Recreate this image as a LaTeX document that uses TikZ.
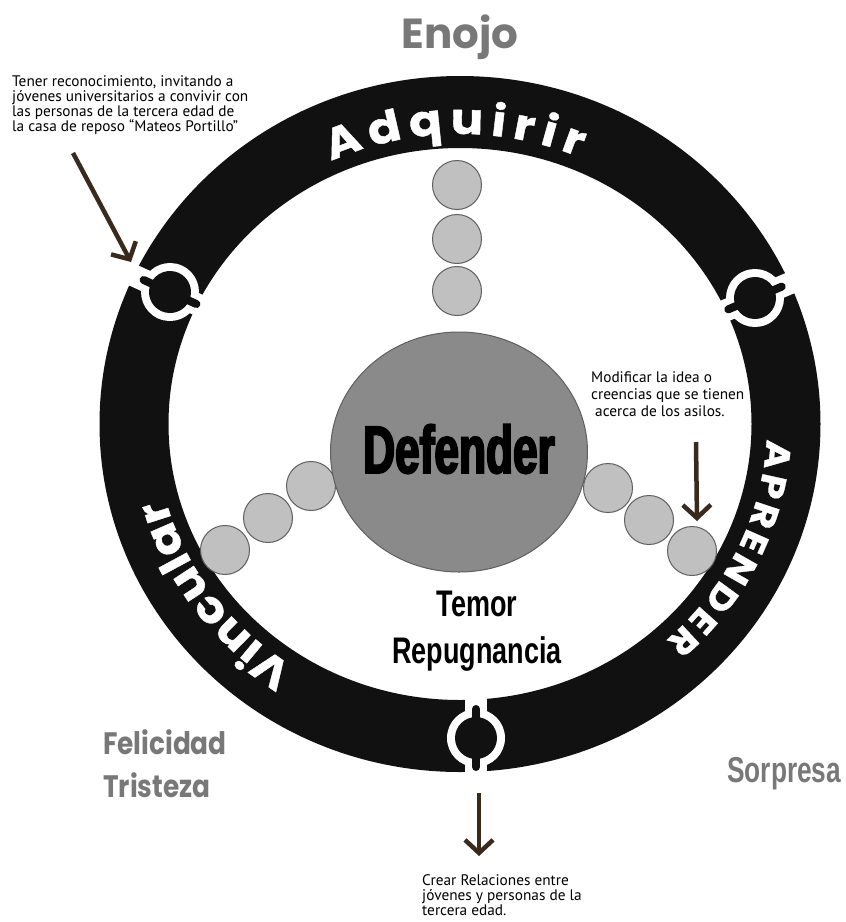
\documentclass[tikz,border=0pt]{standalone}
\usepackage{fontspec}
\setmainfont{PT Sans}
\newfontfamily\ringfont[FakeStretch=1.12,FakeBold=1]{Poppins}
\newfontfamily\emofont{Poppins}
\newfontfamily\emofontc[FakeStretch=0.85]{Poppins}
\newfontfamily\condfont[FakeStretch=0.73]{Liberation Sans}
\newfontfamily\deffont[FakeStretch=0.66,FakeBold=3]{Liberation Sans}
\usetikzlibrary{decorations.text,arrows.meta,shapes.geometric}
\definecolor{ringblack}{RGB}{17,17,17}
\definecolor{emogray}{RGB}{120,120,120}
\definecolor{smallfill}{RGB}{192,192,192}
\definecolor{smalledge}{RGB}{95,95,95}
\definecolor{bigfill}{RGB}{138,138,138}
\definecolor{arrowbrown}{RGB}{58,42,30}
\newcommand\ringfmt{\ringfont\bfseries\fontsize{43}{43}\selectfont}
\newcommand\ringfmtcaps{\ringfont\bfseries\fontsize{35}{35}\selectfont}
\newcommand\notefont{\fontsize{15.3}{15}\selectfont}
\newcommand\notefontb{\fontsize{15.3}{17}\selectfont}
\begin{document}
\begin{tikzpicture}[x=1pt,y=-1pt,
  smallc/.style={circle, draw=smalledge, line width=1pt, fill=smallfill, minimum size=49pt, inner sep=0pt},
  bigc/.style={ellipse, draw=smalledge, line width=1pt, fill=bigfill, minimum width=257pt, minimum height=240pt, inner sep=0pt},
  note/.style={font=\notefont, align=left, inner sep=0pt, text=black, anchor=north west},
  noteb/.style={font=\notefontb, align=left, inner sep=0pt, text=black, anchor=north west},
  emo/.style={text=emogray, inner sep=0pt},
  centertext/.style={inner sep=0pt, text=black},
  brownarrow/.style={draw=arrowbrown, line width=4.5pt, -{Straight Barb[length=13pt, width=28pt, line width=4.5pt]}},
  ringtext/.style={decorate, decoration={text along path, text color=white, text align=fit to path, text={#1}}},
  junction/.pic={
    \draw[white, line width=22pt] (-45,0) -- (45,0);
    \fill[white] (0,0) circle[radius=29];
    \fill[ringblack] (0,0) circle[radius=21];
    \draw[ringblack, line width=8pt, line cap=round] (-29,0) -- (29,0);
  }]
\useasboundingbox (0,0) rectangle (846,922);
\fill[white] (0,0) rectangle (846,922);

% ring
\fill[ringblack, even odd rule] (460,424) ellipse[x radius=360.5, y radius=348] (460,424) ellipse[x radius=291.5, y radius=276];

% junction icons
\pic[rotate=155.5] at (170,292) {junction};
\pic[rotate=23] at (755,298) {junction};
\pic[rotate=90] at (476,738) {junction};

% ring labels
\path[ringtext={|\ringfmt|Adquirir}] ([shift={(460,424)}]245:305 and 290) arc[start angle=245, end angle=293, x radius=305, y radius=290];
\path[ringtext={|\ringfmtcaps|APRENDER}] ([shift={(460,424)}]3:307 and 292) arc[start angle=3, end angle=48, x radius=307, y radius=292];
\path[ringtext={|\ringfmt|Vincular}] ([shift={(460,424)}]123:305 and 290) arc[start angle=123, end angle=165, x radius=305, y radius=290];

% small circles
\node[smallc] (t1) at (457,185) {};
\node[smallc] (t2) at (457,239) {};
\node[smallc] (t3) at (457,291) {};
\node[smallc] (l1) at (311,486) {};
\node[smallc] (l2) at (268,518) {};
\node[smallc] (l3) at (225,550) {};
\node[smallc] (r1) at (608,488) {};
\node[smallc] (r2) at (649,520) {};
\node[smallc] (r3) at (692,551) {};

% centre
\node[bigc] (def) at (459,452) {};
\node[centertext, font=\deffont\bfseries\fontsize{67}{67}\selectfont] (deft) at (459,449) {Defender};
\node[centertext, font=\condfont\bfseries\fontsize{37}{37}\selectfont, anchor=base] (temor) at (477,616) {Temor};
\node[centertext, font=\condfont\bfseries\fontsize{37}{37}\selectfont, anchor=base] (repug) at (477,663) {Repugnancia};

% emotions
\node[emo, font=\emofont\bfseries\fontsize{42}{42}\selectfont, anchor=base] (enojo) at (460,48) {Enojo};
\node[emo, font=\emofontc\bfseries\fontsize{31}{31}\selectfont, anchor=base west] (feli) at (103,754) {Felicidad};
\node[emo, font=\emofontc\bfseries\fontsize{31}{31}\selectfont, anchor=base west] (tris) at (103,797) {Tristeza};
\node[emo, font=\condfont\bfseries\fontsize{36}{36}\selectfont, anchor=base west] (sorp) at (727,782) {Sorpresa};

% notes
\node[note] (n1) at (12,75.5) {Tener reconocimiento, invitando a\\jóvenes universitarios a convivir con\\las personas de la tercera edad de\\la casa de reposo “Mateos Portillo”};
\node[noteb] (n2) at (591,371.5) {Modificar la idea o\\creencias que se tienen\\\hspace*{4pt}acerca de los asilos.};
\node[note] (n3) at (422,874.5) {Crear Relaciones entre\\jóvenes y personas de la\\tercera edad.};

% arrows
\coordinate (a1s) at (73,153);
\coordinate (a1e) at (131,262);
\coordinate (a2s) at (696,442);
\coordinate (a2e) at (697,521);
\coordinate (a3s) at (479,793);
\coordinate (a3e) at (479,856);
\draw[brownarrow] (a1s) -- (a1e);
\draw[brownarrow] (a2s) -- (a2e);
\draw[brownarrow] (a3s) -- (a3e);
\end{tikzpicture}
\end{document}
